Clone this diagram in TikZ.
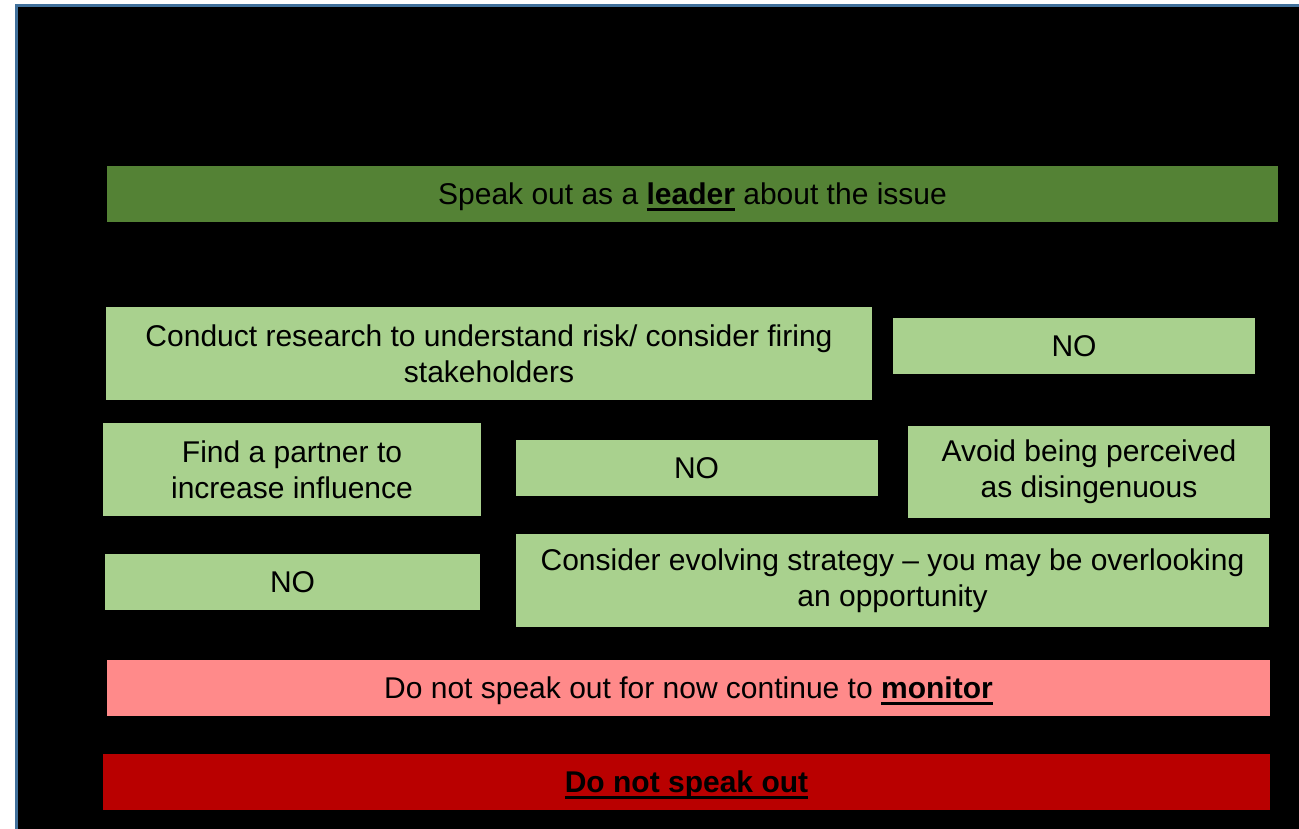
\documentclass[tikz,border=0pt]{standalone}
\usepackage{fontspec}
\setmainfont{Liberation Sans}
\usepackage{tikz}

\definecolor{leadgreen}{RGB}{84,130,53}
\definecolor{lightgreen}{RGB}{169,209,142}
\definecolor{monitorpink}{RGB}{255,138,138}
\definecolor{stopred}{RGB}{185,0,0}
\definecolor{frameblue}{RGB}{65,113,156}

% bold word with a heavy underline
\newcommand{\ubold}[1]{\setbox0\hbox{\textbf{#1}}%
  \rlap{\smash{\vrule height -3pt depth 6pt width \wd0}}\box0\relax}

\begin{document}
\begin{tikzpicture}[x=1pt,y=-1pt,
                    font=\fontsize{30}{36}\selectfont,
                    inner sep=0pt,outer sep=0pt]
      \tikzstyle{box}=[rectangle,align=center,text=black]
      \tikzstyle{onerow}=[box,text height=21.5pt,text depth=0pt,minimum height=56pt]
      \tikzstyle{lightbox}=[fill=lightgreen]

      \useasboundingbox (0,0) rectangle (1299,829);
      \draw[frameblue,line width=3pt,fill=black] (16,5.5) rectangle (1320,850);

      \node[onerow,fill=leadgreen,minimum width=1171pt] (leader)
            at (692.5,194) {Speak out as a \ubold{leader} about the issue};

      \node[box,lightbox,minimum width=766pt,minimum height=93pt] (research)
            at (489,353.5) {Conduct research to understand risk/ consider firing\\stakeholders};
      \node[onerow,lightbox,minimum width=362pt] (noA)
            at (1074,346) {NO};

      \node[box,lightbox,minimum width=378pt,minimum height=93pt] (partner)
            at (292,469.5) {Find a partner to\\increase influence};
      \node[onerow,lightbox,minimum width=362pt] (noB)
            at (696.5,468) {NO};
      \node[box,lightbox,minimum width=362pt,minimum height=92pt] (avoid)
            at (1089,472) {Avoid being perceived\\as disingenuous};

      \node[onerow,lightbox,minimum width=375pt] (noC)
            at (292.5,582) {NO};
      \node[box,lightbox,minimum width=753pt,minimum height=93pt] (evolve)
            at (892.5,580.5) {Consider evolving strategy -- you may be overlooking\\an opportunity};

      \node[onerow,fill=monitorpink,minimum width=1163pt] (monitor)
            at (688.5,688) {Do not speak out for now continue to \ubold{monitor}};
      \node[onerow,fill=stopred,minimum width=1167pt] (stop)
            at (686.5,782) {\ubold{Do not speak out}};
    \end{tikzpicture}
\end{document}
